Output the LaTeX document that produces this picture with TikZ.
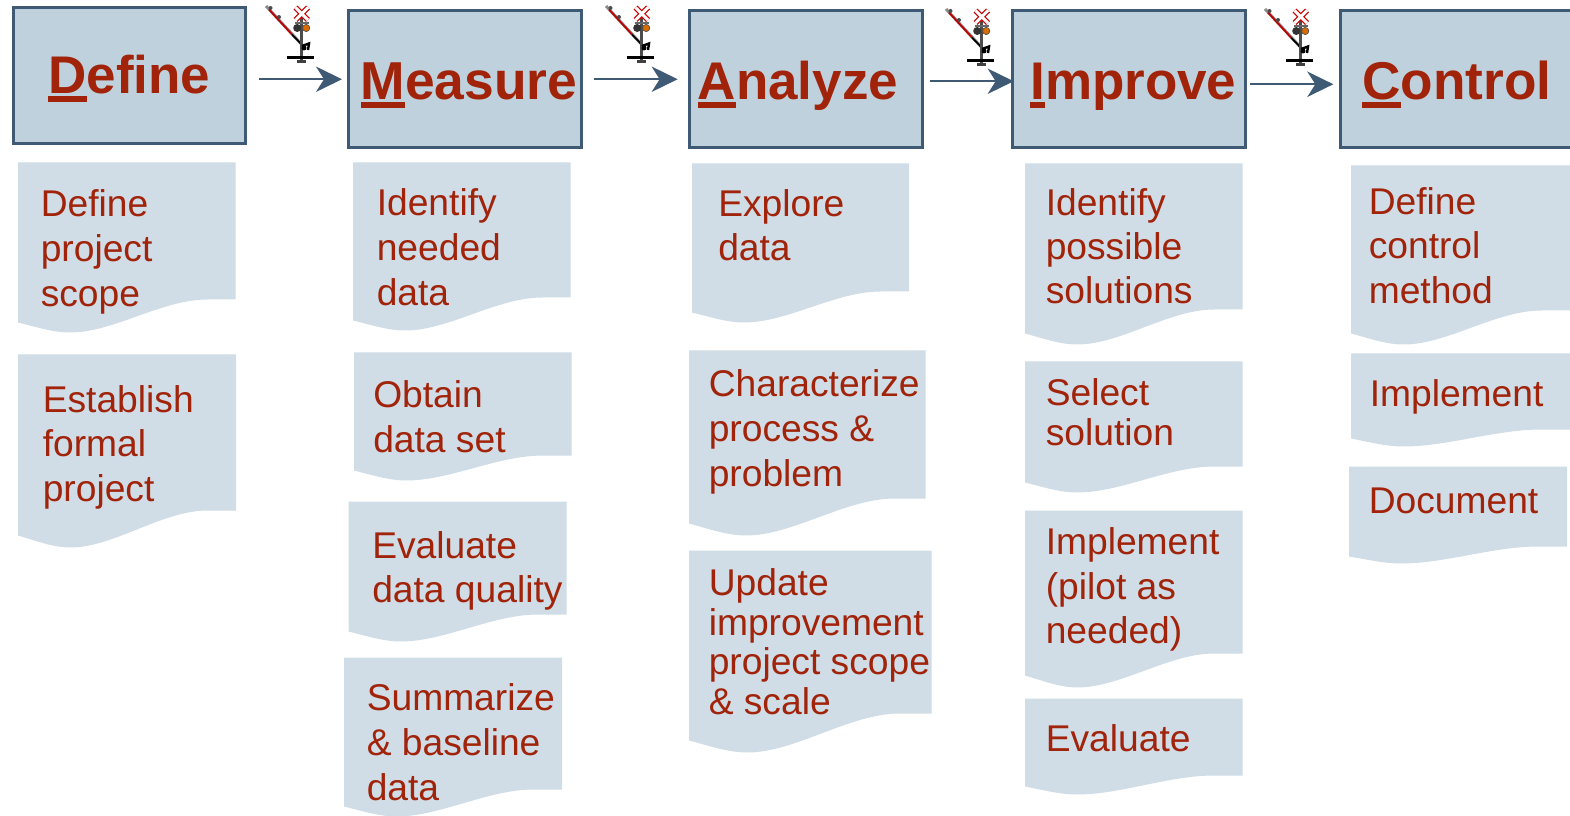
\documentclass[tikz,border=0pt]{standalone}
\usepackage{fontspec}
\setmainfont{Liberation Sans}
\usetikzlibrary{arrows.meta}
\definecolor{boxfill}{HTML}{BFD1DC}
\definecolor{boxline}{HTML}{3F5A74}
\definecolor{docfill}{HTML}{D0DCE6}
\definecolor{ink}{HTML}{A0230A}
\tikzset{
  x=0.75pt,y=-0.75pt,
  headbox/.style={draw=boxline,fill=boxfill,line width=2.25pt,inner sep=0pt,outer sep=0pt,anchor=north west},
  headtext/.style={text=ink,inner sep=0pt,anchor=base west},
  doctext/.style={text=ink,inner sep=0pt,anchor=north west,align=left},
  docshape/.style={fill=docfill,draw=none},
  flow/.style={draw=boxline,line width=1.5pt,-{Stealth[length=19.5pt,width=19pt,inset=6pt]}},
  crossing/.pic={
    \draw[black!45,line width=2.2pt] (-35,6) -- (4,48);
    \draw[red!75!black,line width=1.3pt] (-32,9.5) -- (-9,34.5);
    \draw[black,line width=1.3pt] (-9,34.5) -- (4,48);
    \fill[black!70] (-30.5,8) circle (2) (-22,17) circle (2);
    \draw[black!70,line width=2pt] (0.5,18) -- (0.5,62);
    \draw[black,line width=2pt] (-14.5,57.5) -- (13,57.5);
    \fill[black!75] (-4,60.5) rectangle (5,63.5);
    \draw[black,line width=1.8pt] (1,46) -- (8,43.5) -- (7,50);
    \fill[black] (3,48) circle (2.5);
    \draw[black!60,line width=0.9pt] (-6,23) -- (8,23);
    \fill[black!80] (-3.8,28) circle (4);
    \fill[orange!85!black,draw=black!70,line width=0.5pt] (5.2,28) circle (3.6);
    \draw[red!80!black,line width=4.2pt] (-5.5,7.5) -- (7,20) (-5.5,20) -- (7,7.5);
    \draw[white,line width=2.2pt] (-5.5,7.5) -- (7,20) (-5.5,20) -- (7,7.5);
  }
}
% first letter with a heavy underline
\newcommand{\firstul}[1]{\setbox0\hbox{#1}\rlap{\rule[-0.155em]{\wd0}{0.115em}}\box0 }
% \heading{name}{x1}{y1}{x2}{y2}
\newcommand{\heading}[5]{%
  \pgfmathsetmacro{\bw}{(#4-#2)*0.75}\pgfmathsetmacro{\bh}{(#5-#3)*0.75}%
  \node[headbox,minimum width=\bw pt,minimum height=\bh pt] (#1) at (#2,#3) {};
}
\newcommand{\headlabel}[6]{%
  \pgfmathsetmacro{\fs}{#4*0.75}%
  \node[headtext,font=\fontsize{\fs}{\fs}\selectfont\bfseries] (#1) at (#2,#3) {\firstul{#5}#6};
}
% \doc{x1}{y1}{x2}{yright}{yleft}{ybottom}
\newcommand{\doc}[6]{%
  \pgfmathsetmacro{\dw}{#3-#1}%
  \pgfmathsetmacro{\xa}{#1+0.08*\dw}\pgfmathsetmacro{\xb}{#1+0.16*\dw}%
  \pgfmathsetmacro{\xc}{#1+0.24*\dw}\pgfmathsetmacro{\xd}{#1+0.44*\dw}%
  \pgfmathsetmacro{\xe}{#1+0.66*\dw}\pgfmathsetmacro{\xf}{#1+0.87*\dw}%
  \pgfmathsetmacro{\ya}{#5+0.42*(#6-#5)}%
  \path[docshape] (#1,#2) -- (#3,#2) -- (#3,#4) -- (\xf,#4)
    .. controls (\xe,#4) and (\xd,#6) .. (\xc,#6)
    .. controls (\xb,#6) and (\xa,\ya) .. (#1,#5) -- cycle;
}
\newcommand{\doclabel}[5]{%
  \pgfmathsetmacro{\sk}{#4*0.75}%
  \node[doctext,font=\fontsize{27.9pt}{\sk pt}\selectfont,yshift=26pt] (#1) at (#2,#3) {\rule{0pt}{26pt}#5};
}
\begin{document}
\begin{tikzpicture}
\useasboundingbox (0,0) rectangle (1570,816);
\clip (0,0) rectangle (1570,816);
% heading boxes
\heading{define}{13}{8}{245}{144}
\heading{measure}{348}{11}{581}{147.5}
\heading{analyze}{689}{11}{922}{147.5}
\heading{improve}{1012}{11}{1245.5}{147.5}
\heading{control}{1340}{11}{1585}{147.5}
\headlabel{tdefine}{48}{93.5}{53}{D}{efine}
\headlabel{tmeasure}{360.5}{100}{53.4}{M}{easure}
\headlabel{tanalyze}{697.5}{100}{53}{A}{nalyze}
\headlabel{timprove}{1030}{100}{53}{I}{mprove}
\headlabel{tcontrol}{1362}{100}{53.2}{C}{ontrol}
% connectors
\draw[flow,shorten <=10.5pt,shorten >=4.5pt] (define.east |- measure.west) -- (measure.west);
\draw[flow,shorten <=10pt,shorten >=8.5pt] (measure.east) -- (analyze.west);
\draw[flow,shorten <=6pt,shorten >=-1.25pt] ([yshift=-1.5pt]analyze.east) -- ([yshift=-1.5pt]improve.west);
\draw[flow,shorten <=3.5pt,shorten >=5pt] ([yshift=-3.75pt]improve.east) -- ([yshift=-3.75pt]control.west);
% crossing signals
\pic at (301,0) {crossing};
\pic at (641,0) {crossing};
\pic at (981,3) {crossing};
\pic at (1300,3) {crossing};
% documents
\doc{18}{162.5}{235.5}{299.5}{322.5}{332.5}
\doclabel{d1t}{40.5}{216}{45}{Define\\project\\scope}
\doc{18}{354.5}{236}{510.5}{535.5}{547.5}
\doclabel{d2t}{42.5}{412}{44.7}{Establish\\formal\\project}
\doc{353}{162.5}{570.5}{297.5}{320.5}{330.5}
\doclabel{m1t}{376.5}{215}{45}{Identify\\needed\\data}
\doc{354}{352.5}{571.5}{455.5}{470.5}{480.5}
\doclabel{m2t}{373}{407}{45}{Obtain\\data set}
\doc{348.5}{501.5}{566.5}{614.5}{631.5}{641.5}
\doclabel{m3t}{372}{558}{44.5}{Evaluate\\data quality}
\doc{344}{657.5}{562}{789.5}{806.5}{816.5}
\doclabel{m4t}{366.5}{710}{45}{Summarize\\\& baseline\\data}
\doc{692}{163.5}{909}{291.5}{312.5}{322.5}
\doclabel{a1t}{718}{216}{44.5}{Explore\\data}
\doc{689}{350.5}{925.5}{498.5}{523.5}{535.5}
\doclabel{a2t}{708.5}{396}{45}{Characterize\\process \&\\problem}
\doc{689}{550.5}{931.5}{713.5}{740.5}{752.5}
\doclabel{a3t}{708.5}{595}{39.8}{Update\\improvement\\project scope\\\& scale}
\doc{1025}{163.5}{1242.5}{309.5}{333.5}{344.5}
\doclabel{i1t}{1045.5}{215}{44}{Identify\\possible\\solutions}
\doc{1025}{361.5}{1242.5}{466.5}{482.5}{492.5}
\doclabel{i2t}{1045.5}{405}{40}{Select\\solution}
\doc{1025}{510.5}{1242.5}{653.5}{675.5}{687.5}
\doclabel{i3t}{1045.5}{554.5}{44.5}{Implement\\(pilot as\\needed)}
\doc{1025}{698.5}{1242.5}{775.5}{786.5}{794.5}
\doclabel{i4t}{1045.5}{751.5}{44}{Evaluate}
\doc{1351}{165.5}{1570}{310.5}{333.5}{344.5}
\doclabel{c1t}{1368.5}{214}{44.5}{Define\\control\\method}
\doc{1351}{353.5}{1570}{429.5}{438.5}{446.5}
\doclabel{c2t}{1369.5}{406}{44}{Implement}
\doc{1349}{466.5}{1567}{546.5}{556.5}{563.5}
\doclabel{c3t}{1368.5}{513}{44}{Document}
\end{tikzpicture}
\end{document}
